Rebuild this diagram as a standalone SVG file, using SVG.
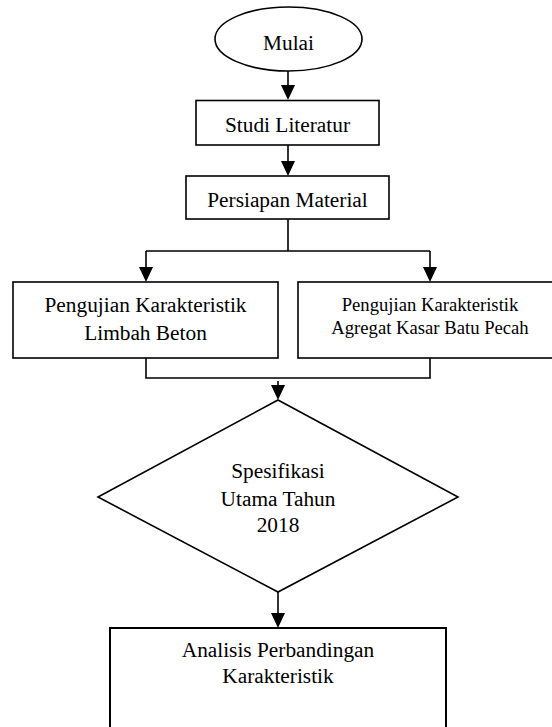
<svg xmlns="http://www.w3.org/2000/svg" width="552" height="727" viewBox="0 0 552 727">
<style>
.n{fill:#fff;stroke:#000;stroke-width:1.6}
.t{font-family:'Liberation Serif','DejaVu Serif',serif;font-size:21.33px;fill:#000;text-anchor:middle}
.s{font-size:18.67px}
.c{fill:none;stroke:#000;stroke-width:1.6}
</style>
<rect width="552" height="727" fill="#fff"/>
<g id="connectors">
<path class="c" d="M288,71 V86"/>
<path d="M281,85 H295 L288,100 Z"/>
<path class="c" d="M288,145 V161"/>
<path d="M281,161 H295 L288,176 Z"/>
<path class="c" d="M288,219 V251 M146,251 H430 M146,251 V268 M430,251 V268"/>
<path d="M139,267 H153 L146,282 Z"/>
<path d="M423,267 H437 L430,282 Z"/>
<path class="c" d="M146,358 V378 H430 V358"/>
<path class="c" d="M278,381 V386"/>
<path d="M271,385 H285 L278,400 Z"/>
<path class="c" d="M278,592 V613"/>
<path d="M271,613 H285 L278,628 Z"/>
</g>
<g id="mulai">
<ellipse class="n" cx="288.5" cy="39" rx="73.5" ry="32"/>
<text class="t" font-family="Liberation Serif, serif" x="288.5" y="50">Mulai</text>
</g>
<g id="studi">
<rect class="n" x="196" y="100.5" width="183" height="44.5"/>
<text class="t" font-family="Liberation Serif, serif" x="287.5" y="131.5">Studi Literatur</text>
</g>
<g id="persiapan">
<rect class="n" x="186" y="176" width="203" height="43"/>
<text class="t" font-family="Liberation Serif, serif" x="287.5" y="206.5">Persiapan Material</text>
</g>
<g id="limbah">
<rect class="n" x="13" y="282" width="265" height="76"/>
<text class="t" font-family="Liberation Serif, serif" x="145.5" y="312">Pengujian Karakteristik</text>
<text class="t" font-family="Liberation Serif, serif" x="145.5" y="340">Limbah Beton</text>
</g>
<g id="agregat">
<rect class="n" x="298" y="282" width="264" height="76"/>
<text class="t s" font-family="Liberation Serif, serif" x="430" y="311">Pengujian Karakteristik</text>
<text class="t s" font-family="Liberation Serif, serif" x="430" y="334">Agregat Kasar Batu Pecah</text>
</g>
<g id="spesifikasi">
<polygon class="n" points="278,400 458,497 278,592 98,497"/>
<text class="t" font-family="Liberation Serif, serif" x="278" y="478">Spesifikasi</text>
<text class="t" font-family="Liberation Serif, serif" x="278" y="506">Utama Tahun</text>
<text class="t" font-family="Liberation Serif, serif" x="278" y="532">2018</text>
</g>
<g id="analisis">
<rect class="n" x="110" y="628" width="336" height="110" style="stroke-width:2"/>
<text class="t" font-family="Liberation Serif, serif" x="278" y="657">Analisis Perbandingan</text>
<text class="t" font-family="Liberation Serif, serif" x="278" y="683">Karakteristik</text>
</g>
</svg>
